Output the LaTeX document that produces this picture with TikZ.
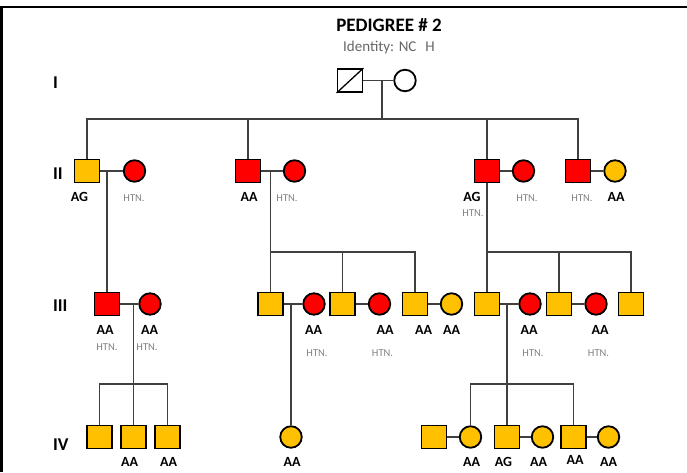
\documentclass[tikz,border=0pt]{standalone}
\usepackage{fontspec}
\setmainfont{Carlito}
\usepackage{xcolor}
\usetikzlibrary{positioning,calc}
\definecolor{aagold}{HTML}{FFC000}
\definecolor{htnred}{HTML}{FF0000}

\begin{document}
\begin{tikzpicture}[x=1pt, y=-1pt,
male/.style={rectangle, draw, line width=1.8pt, minimum width=25pt, minimum height=23pt, inner sep=0pt},
female/.style={circle, draw, line width=1.8pt, minimum size=21.5pt, inner sep=0pt},
aafill/.style={fill=aagold},
htnfill/.style={fill=htnred},
link/.style={line width=1.3pt, draw=black!75},
geno/.style={font=\bfseries\fontsize{14}{14}\selectfont, anchor=base},
htn/.style={font=\fontsize{10.5}{10.5}\selectfont, text=black!50, anchor=base},
gen/.style={font=\bfseries\fontsize{18}{18}\selectfont, anchor=base west}
]
\useasboundingbox (0,0) rectangle (687,472);

% Frame
\draw[line width=2pt] (0,7) -- (687,7);
\draw[line width=3pt] (1.5,6) -- (1.5,472);

% Title
\node[font=\bfseries\fontsize{19}{19}\selectfont, anchor=base] (title) at (389,31) {PEDIGREE \# 2};
\node[font=\fontsize{15}{15}\selectfont, text=black!60, anchor=base] (ident) at (389,51.5) {Identity: NC\hspace{9pt}H};

% Generations
\node[gen] (gI) at (49.5,88) {I};
\node[gen] (gII) at (49.5,179) {II};
\node[gen] (gIII) at (49.5,311.5) {III};
\node[gen] (gIV) at (49.5,450) {IV};

% Generation I
\node[male, fill=white] (i1) at (350,80.5) {};
\node[female, fill=white] (i2) at (405,80.5) {};
\draw[line width=1.3pt] (i1.south west) -- (i1.north east);

% Generation II
\node[male, aafill] (ii1) at (87,171) {};
\node[female, htnfill] (ii2) at (134.5,171) {};
\node[male, htnfill] (ii3) at (248,171) {};
\node[female, htnfill] (ii4) at (294.5,171) {};
\node[male, htnfill] (ii5) at (487,171) {};
\node[female, htnfill] (ii6) at (523.5,171) {};
\node[male, htnfill] (ii7) at (578,171) {};
\node[female, aafill] (ii8) at (615,171) {};

% Generation III
\node[male, htnfill] (iii1) at (107,304) {};
\node[female, htnfill] (iii2) at (150,304) {};
\node[male, aafill] (iii3) at (270.5,304) {};
\node[female, htnfill] (iii4) at (314,304) {};
\node[male, aafill] (iii5) at (342.5,304) {};
\node[female, htnfill] (iii6) at (379.5,304) {};
\node[male, aafill] (iii7) at (415,304) {};
\node[female, aafill] (iii8) at (451.5,304) {};
\node[male, aafill] (iii9) at (487,304) {};
\node[female, htnfill] (iii10) at (530,304) {};
\node[male, aafill] (iii11) at (559,304) {};
\node[female, htnfill] (iii12) at (596,304) {};
\node[male, aafill] (iii13) at (631,304) {};

% Generation IV
\node[male, aafill] (iv1) at (99.5,437) {};
\node[male, aafill] (iv2) at (133.5,437) {};
\node[male, aafill] (iv3) at (167.5,437) {};
\node[female, aafill] (iv4) at (291,437) {};
\node[male, aafill] (iv5) at (434,437) {};
\node[female, aafill] (iv6) at (470.5,437) {};
\node[male, aafill] (iv7) at (507,437) {};
\node[female, aafill] (iv8) at (542.5,437) {};
\node[male, aafill] (iv9) at (573.5,437) {};
\node[female, aafill] (iv10) at (608.5,437) {};

% Couples and sibships
\coordinate (c1) at (382,80.5);
\coordinate (c21) at (107,171);
\coordinate (c22) at (270.5,171);
\coordinate (c31) at (133.5,304);
\coordinate (c32) at (291,304);
\coordinate (c35) at (507,304);
\coordinate (sib2) at (0,119);
\coordinate (sib3) at (0,252);
\coordinate (sib4) at (0,384);

\draw[link] (i1) -- (i2);
\draw[link] (c1) -- (c1 |- sib2);
\draw[link] (ii1.north) -- (ii1 |- sib2) -- (ii7 |- sib2) -- (ii7.north);
\draw[link] (ii3.north) -- (ii3 |- sib2);
\draw[link] (ii5.north) -- (ii5 |- sib2);

\draw[link] (ii1) -- (ii2);
\draw[link] (ii3) -- (ii4);
\draw[link] (ii5) -- (ii6);
\draw[link] (ii7) -- (ii8);
\draw[link] (c21) -- (iii1.north);
\draw[link] (c22) -- (c22 |- sib3);
\draw[link] (iii3.north) -- (iii3 |- sib3) -- (iii7 |- sib3) -- (iii7.north);
\draw[link] (iii5.north) -- (iii5 |- sib3);
\draw[link] (ii5.south) -- (iii9.north);
\draw[link] (iii9 |- sib3) -- (iii13 |- sib3) -- (iii13.north);
\draw[link] (iii11.north) -- (iii11 |- sib3);

\draw[link] (iii1) -- (iii2);
\draw[link] (iii3) -- (iii4);
\draw[link] (iii5) -- (iii6);
\draw[link] (iii7) -- (iii8);
\draw[link] (iii9) -- (iii10);
\draw[link] (iii11) -- (iii12);
\draw[link] (c31) -- (iv2.north);
\draw[link] (iv1.north) -- (iv1 |- sib4) -- (iv3 |- sib4) -- (iv3.north);
\draw[link] (c32) -- (iv4.north);
\draw[link] (c35) -- (iv7.north);
\draw[link] (iv6.north) -- (iv6 |- sib4) -- (iv9 |- sib4) -- (iv9.north);

\draw[link] (iv5) -- (iv6);
\draw[link] (iv7) -- (iv8);
\draw[link] (iv9) -- (iv10);

% Labels
\node[geno] (aii1) at (79.5,201) {AG};
\node[htn] (hii2) at (134,201.5) {HTN.};
\node[geno] (aii3) at (249,201) {AA};
\node[htn] (hii4) at (287,201.5) {HTN.};
\node[geno] (aii5) at (472,201) {AG};
\node[htn] (hii5) at (473,216) {HTN.};
\node[htn] (hii6) at (527,201.5) {HTN.};
\node[htn] (hii7) at (582,201.5) {HTN.};
\node[geno] (aii8) at (616,201) {AA};

\node[geno] (aiii1) at (105,334) {AA};
\node[htn] (hiii1) at (107,350.5) {HTN.};
\node[geno] (aiii2) at (149.5,334) {AA};
\node[htn] (hiii2) at (147,350.5) {HTN.};
\node[geno] (aiii4) at (313.5,334) {AA};
\node[htn] (hiii4) at (317,356) {HTN.};
\node[geno] (aiii6) at (385,334) {AA};
\node[htn] (hiii6) at (382.5,356) {HTN.};
\node[geno] (aiii7) at (423.5,334) {AA};
\node[geno] (aiii8) at (451.5,334) {AA};
\node[geno] (aiii10) at (529,334) {AA};
\node[htn] (hiii10) at (533,356) {HTN.};
\node[geno] (aiii12) at (600,334) {AA};
\node[htn] (hiii12) at (598.5,356) {HTN.};

\node[geno] (aiv2) at (129.5,466.5) {AA};
\node[geno] (aiv3) at (168.5,466) {AA};
\node[geno] (aiv4) at (292,466.5) {AA};
\node[geno] (aiv6) at (471.5,466.5) {AA};
\node[geno] (aiv7) at (503.5,466.5) {AG};
\node[geno] (aiv8) at (538.5,466.5) {AA};
\node[geno] (aiv9) at (575,464.5) {AA};
\node[geno] (aiv10) at (608.5,466.5) {AA};

\end{tikzpicture}
\end{document}
